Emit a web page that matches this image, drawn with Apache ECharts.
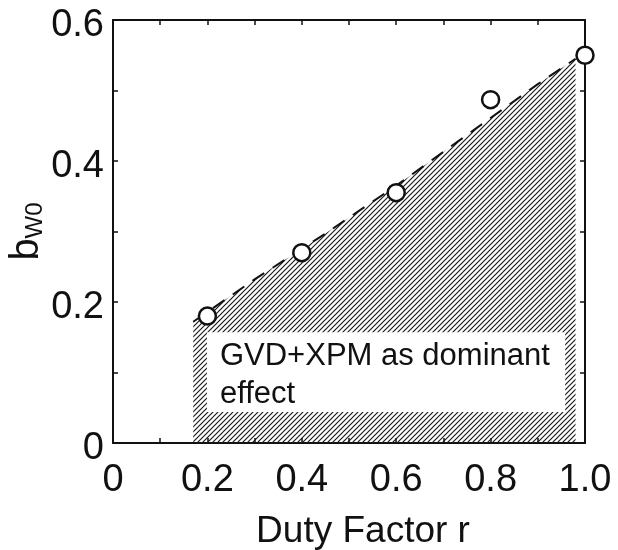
<!DOCTYPE html>
<html>
<head>
<meta charset="utf-8">
<script src="https://cdn.jsdelivr.net/npm/echarts@6/dist/echarts.min.js"></script>
<style>
  html, body { margin: 0; padding: 0; background: #fff; }
  #chart { width: 618px; height: 550px; }
</style>
</head>
<body>
<div id="chart"></div>
<script>
// measured points (circles)
const dutyFactor = [0.2, 0.4, 0.6, 0.8, 1.0];
const bw0 = [0.18, 0.27, 0.355, 0.487, 0.55];

// dashed boundary of the hatched region
const boundaryR = [0.17, 0.3, 0.45, 0.6, 0.75, 0.9, 0.98];
const boundaryB = [0.172, 0.232, 0.297, 0.365, 0.437, 0.509, 0.545];

const xTicks = ['0', '0.2', '0.4', '0.6', '0.8', '1.0'];
const yTicks = ['0', '0.2', '0.4', '0.6'];

const FONT = '"Liberation Sans", Arial, sans-serif';

function hatchPattern() {
  const c = document.createElement('canvas');
  c.width = 5;
  c.height = 5;
  const ctx = c.getContext('2d');
  ctx.strokeStyle = '#1a1a1a';
  ctx.lineWidth = 1.2;
  ctx.beginPath();
  ctx.moveTo(0, 5); ctx.lineTo(5, 0);
  ctx.moveTo(-1, 1); ctx.lineTo(1, -1);
  ctx.moveTo(4, 6); ctx.lineTo(6, 4);
  ctx.stroke();
  return c;
}

function tickLabel(list, rich) {
  return function (v) {
    const s = Math.abs(v) < 1e-9 ? '0' : v.toFixed(1);
    if (list.indexOf(s) < 0) return '';
    return rich ? '{v|' + s + '}' : s;
  };
}

const axisLine = { show: true, onZero: false, lineStyle: { color: '#111', width: 2 } };
const axisTick = { show: true, inside: true, length: 5, lineStyle: { color: '#111', width: 1.5 } };

const chart = echarts.init(document.getElementById('chart'));

const option = {
  animation: false,
  grid: { left: 113, right: 33, top: 20, bottom: 107, containLabel: false, outerBoundsMode: 'none' },
  xAxis: [
    {
      type: 'value',
      min: 0,
      max: 1,
      interval: 0.1,
      position: 'bottom',
      axisLine: axisLine,
      axisTick: axisTick,
      splitLine: { show: false },
      axisLabel: {
        formatter: tickLabel(xTicks),
        color: '#111',
        fontFamily: FONT,
        fontSize: 38,
        margin: 19,
      },
      name: 'Duty Factor r',
      nameLocation: 'middle',
      nameGap: 70,
      nameMoveOverlap: false,
      nameTextStyle: {
        color: '#111',
        fontFamily: FONT,
        fontSize: 37,
        padding: [0, 0, 0, 28],
      },
    },
    {
      type: 'value',
      min: 0,
      max: 1,
      interval: 0.1,
      position: 'top',
      axisLine: axisLine,
      axisTick: axisTick,
      axisLabel: { show: false },
      splitLine: { show: false },
    },
  ],
  yAxis: [
    {
      type: 'value',
      min: 0,
      max: 0.6,
      interval: 0.1,
      position: 'left',
      axisLine: axisLine,
      axisTick: axisTick,
      splitLine: { show: false },
      axisLabel: {
        formatter: tickLabel(yTicks, true),
        color: '#111',
        fontFamily: FONT,
        fontSize: 38,
        margin: 9,
        rich: {
          v: { fontFamily: FONT, fontSize: 38, color: '#111', padding: [12, 0, 0, 0] },
        },
      },
      name: '{b|b}{s|W0}',
      nameLocation: 'middle',
      nameGap: 66,
      nameMoveOverlap: false,
      nameTextStyle: {
        color: '#111',
        fontFamily: FONT,
        rich: {
          b: { fontSize: 40, lineHeight: 40, verticalAlign: 'bottom', fontFamily: FONT, color: '#111' },
          s: { fontSize: 24, lineHeight: 22, verticalAlign: 'bottom', fontFamily: FONT, color: '#111' },
        },
      },
    },
    {
      type: 'value',
      min: 0,
      max: 0.6,
      interval: 0.1,
      position: 'right',
      axisLine: axisLine,
      axisTick: axisTick,
      axisLabel: { show: false },
      splitLine: { show: false },
    },
  ],
  series: [
    {
      // hatched region + dashed boundary
      type: 'line',
      z: 2,
      data: boundaryR.map((r, i) => [r, boundaryB[i]]),
      showSymbol: false,
      symbol: 'none',
      lineStyle: { color: '#111', width: 2, type: [14, 10] },
      areaStyle: {
        color: { image: hatchPattern(), repeat: 'repeat' },
        opacity: 1,
      },
    },
    {
      type: 'scatter',
      z: 5,
      data: dutyFactor.map((r, i) => [r, bw0[i]]),
      symbol: 'circle',
      symbolSize: 17,
      itemStyle: { color: '#fff', borderColor: '#111', borderWidth: 2.5, opacity: 1 },
      markArea: {
        silent: true,
        z: 4,
        itemStyle: { color: '#fff', borderWidth: 0, opacity: 1 },
        label: {
          show: true,
          position: 'insideTopLeft',
          formatter: 'GVD+XPM as dominant\neffect',
          color: '#111',
          fontFamily: FONT,
          fontSize: 31,
          lineHeight: 38,
          offset: [8, 0],
        },
        data: [[{ coord: [0.199, 0.157] }, { coord: [0.958, 0.044] }]],
      },
    },
  ],
};

chart.setOption(option);
</script>
</body>
</html>
